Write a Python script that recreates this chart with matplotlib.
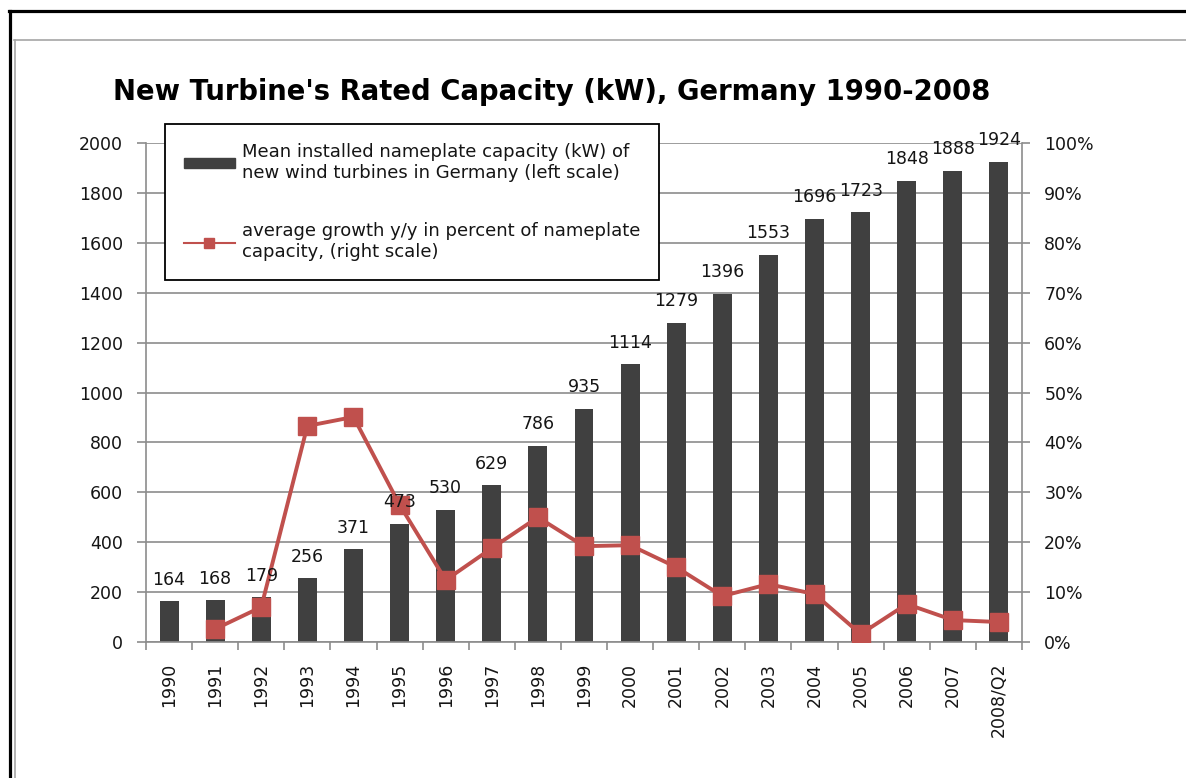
import matplotlib.pyplot as plt
from matplotlib.lines import Line2D
from matplotlib.patches import Patch
from matplotlib.ticker import FuncFormatter

# data
years = ['1990', '1991', '1992', '1993', '1994', '1995', '1996', '1997', '1998', '1999',
         '2000', '2001', '2002', '2003', '2004', '2005', '2006', '2007', '2008/Q2']
capacity_kw = [164, 168, 179, 256, 371, 473, 530, 629, 786, 935,
               1114, 1279, 1396, 1553, 1696, 1723, 1848, 1888, 1924]
# growth y/y in percent, starts at 1991
growth_pct = [2.6, 7.0, 43.3, 45.1, 27.5, 12.4, 18.8, 25.0, 19.2,
              19.4, 15.0, 9.2, 11.6, 9.6, 1.6, 7.6, 4.4, 4.0]

bar_color = '#404040'
line_color = '#C0504D'
grid_color = '#8c8c8c'
txt_color = '#151515'

W, H = 1186, 778
fig = plt.figure(figsize=(W / 100, H / 100), dpi=100)
fig.patch.set_facecolor('white')

# frame of the screenshot
fig.add_artist(Line2D([10 / W, 10 / W], [0, 1 - 11 / H], color='black', lw=2.3))
fig.add_artist(Line2D([9 / W, 1], [1 - 11 / H, 1 - 11 / H], color='black', lw=2.3))
fig.add_artist(Line2D([14.5 / W, 14.5 / W], [0, 1 - 40 / H], color='#a6a6a6', lw=1.2))
fig.add_artist(Line2D([14 / W, 1], [1 - 40 / H, 1 - 40 / H], color='#a6a6a6', lw=1.2))

ax = fig.add_axes([146 / W, 1 - 642 / H, (1022 - 146) / W, (642 - 143) / H])
x = list(range(len(years)))
ax.bar(x, capacity_kw, width=0.41, color=bar_color, zorder=2)
ax.set_xlim(-0.5, len(years) - 0.5)
ax.set_ylim(0, 2000)
ax.set_yticks(range(0, 2001, 200))
ax.yaxis.grid(True, color=grid_color, lw=1.2, zorder=0)
ax.set_axisbelow(True)

ax.set_xticks(x)
ax.set_xticklabels(years, rotation=90, fontsize=12.5, color=txt_color)
ax.set_xticks([i + 0.5 for i in range(-1, len(years))], minor=True)
ax.tick_params(axis='x', which='major', length=0, pad=15)
ax.tick_params(axis='x', which='minor', length=6, color=grid_color, width=1.2, direction='out')
ax.tick_params(axis='y', length=6.5, color=grid_color, width=1.2, labelsize=12.5,
               labelcolor=txt_color, pad=10)

for side in ['top', 'right']:
    ax.spines[side].set_visible(False)
for side in ['left', 'bottom']:
    ax.spines[side].set_color(grid_color)
    ax.spines[side].set_linewidth(1.2)

ax2 = ax.twinx()
ax2.plot(x[1:], [g / 100 for g in growth_pct], color=line_color, lw=2.8,
         marker='s', markersize=13, markeredgecolor=line_color, zorder=3)
ax2.set_ylim(0, 1)
ax2.set_yticks([i / 10 for i in range(11)])
ax2.yaxis.set_major_formatter(FuncFormatter(lambda v, p: f'{v * 100:.0f}%'))
ax2.tick_params(axis='y', length=6, color=grid_color, width=1.2, labelsize=12.5,
                labelcolor=txt_color, pad=10)
for side in ['top', 'left', 'bottom']:
    ax2.spines[side].set_visible(False)
ax2.spines['right'].set_color(grid_color)
ax2.spines['right'].set_linewidth(1.2)

# value labels above the bars
for i, v in enumerate(capacity_kw):
    ax2.annotate(str(v), xy=(i, v), xycoords=ax.transData, xytext=(0, 9),
                 textcoords='offset points', ha='center', va='bottom',
                 fontsize=12.5, color=txt_color, zorder=5, annotation_clip=False)

fig.text(552 / W, 1 - 92 / H, "New Turbine's Rated Capacity (kW), Germany 1990-2008",
         ha='center', va='center', fontsize=19.8, fontweight='bold', family='DejaVu Sans',
         color='black')

handles = [Patch(facecolor=bar_color, edgecolor=bar_color),
           Line2D([], [], color=line_color, lw=1.5, marker='s', markersize=7)]
labels = ['Mean installed nameplate capacity (kW) of\nnew wind turbines in Germany (left scale)',
          'average growth y/y in percent of nameplate\ncapacity, (right scale)']
leg = ax2.legend(handles, labels, loc='upper left', bbox_to_anchor=(165 / W, 1 - 124 / H),
                 bbox_transform=fig.transFigure, borderaxespad=0, frameon=True, fancybox=False,
                 edgecolor='black', fontsize=13, handlelength=2.8, handleheight=0.45,
                 handletextpad=0.4, labelspacing=2.25, borderpad=1.05, framealpha=1,
                 labelcolor=txt_color)
leg.get_frame().set_linewidth(1.3)
leg.set_zorder(10)

fig.savefig('out.png', dpi=100, facecolor='white')
